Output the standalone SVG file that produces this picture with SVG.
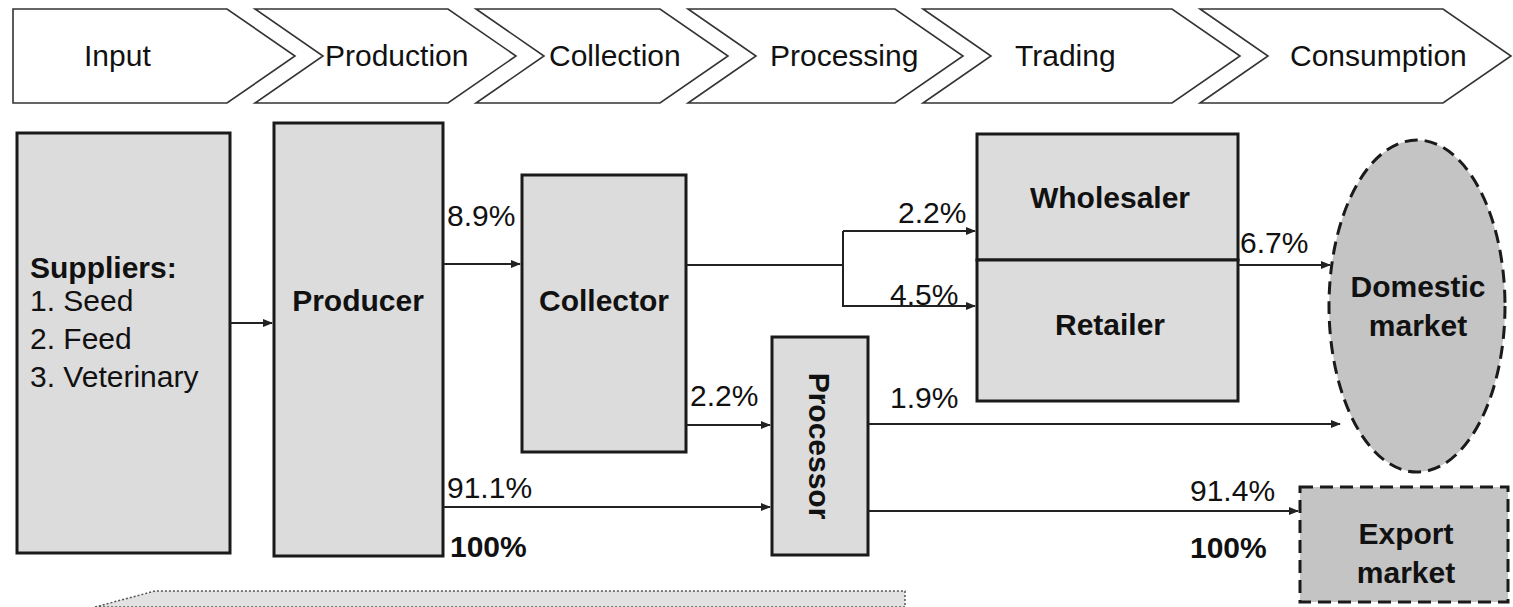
<svg xmlns="http://www.w3.org/2000/svg" width="1513" height="607" viewBox="0 0 1513 607">
<defs>
<marker id="ah" markerWidth="10" markerHeight="10" refX="9" refY="5" orient="auto" markerUnits="userSpaceOnUse">
<path d="M0,1 L10,5 L0,9 Z" fill="#222"/>
</marker>
<style>
.chev{fill:#fff;stroke:#333;stroke-width:1.6}
.ct{font-family:"Liberation Sans",Arial,sans-serif;font-size:30px;fill:#111}
.box{fill:#dcdcdc;stroke:#1a1a1a;stroke-width:3}
.mkt{fill:#c4c4c4;stroke:#1a1a1a;stroke-width:3;stroke-dasharray:13 7}
.bt{font-family:"Liberation Sans",Arial,sans-serif;font-size:30px;font-weight:bold;fill:#111}
.t{font-family:"Liberation Sans",Arial,sans-serif;font-size:30px;fill:#111}
.tb{font-family:"Liberation Sans",Arial,sans-serif;font-size:30px;font-weight:bold;fill:#111}
.ln{fill:none;stroke:#222;stroke-width:2}
</style>
</defs>
<rect width="1513" height="607" fill="#fff"/>

<g id="stages">
<polygon class="chev" points="13,9 227,9 295,56 227,103 13,103"/>
<polygon class="chev" points="255,9 448,9 516,56 448,103 255,103 323,56"/>
<polygon class="chev" points="476,9 660,9 728,56 660,103 476,103 544,56"/>
<polygon class="chev" points="688,9 895,9 963,56 895,103 688,103 756,56"/>
<polygon class="chev" points="923,9 1172,9 1240,56 1172,103 923,103 991,56"/>
<polygon class="chev" points="1200,9 1443,9 1511,56 1443,103 1200,103 1268,56"/>
<text class="ct" x="84" y="66">Input</text>
<text class="ct" x="325" y="66">Production</text>
<text class="ct" x="549" y="66">Collection</text>
<text class="ct" x="770" y="66">Processing</text>
<text class="ct" x="1015" y="66">Trading</text>
<text class="ct" x="1290" y="66">Consumption</text>
</g>

<g id="bottom-arrow">
<polygon points="95,607 155,591 905,591 905,607" fill="#e2e2e2" stroke="#555" stroke-width="1.5" stroke-dasharray="2 2"/>
</g>

<g id="suppliers">
<rect class="box" x="17" y="133" width="213" height="420"/>
<text class="tb" x="30" y="278">Suppliers:</text>
<text class="t" x="30" y="311">1. Seed</text>
<text class="t" x="30" y="349">2. Feed</text>
<text class="t" x="30" y="387">3. Veterinary</text>
</g>

<g id="producer">
<rect class="box" x="274" y="123" width="169" height="433"/>
<text class="bt" x="358" y="311" text-anchor="middle">Producer</text>
</g>

<g id="collector">
<rect class="box" x="522" y="175" width="164" height="277"/>
<text class="bt" x="604" y="311" text-anchor="middle">Collector</text>
</g>

<g id="processor">
<rect class="box" x="772" y="337" width="96" height="218"/>
<text class="bt" x="0" y="0" text-anchor="middle" transform="translate(809,446) rotate(90)">Processor</text>
</g>

<g id="wholesaler">
<rect class="box" x="977" y="134" width="261" height="126"/>
<text class="bt" x="1110" y="208" text-anchor="middle">Wholesaler</text>
</g>

<g id="retailer">
<rect class="box" x="977" y="260" width="261" height="141"/>
<text class="bt" x="1110" y="335" text-anchor="middle">Retailer</text>
</g>

<g id="domestic-market">
<ellipse class="mkt" cx="1417" cy="306" rx="88" ry="166"/>
<text class="bt" x="1418" y="297" text-anchor="middle">Domestic</text>
<text class="bt" x="1418" y="336" text-anchor="middle">market</text>
</g>

<g id="export-market">
<rect class="mkt" x="1300" y="487" width="208" height="115"/>
<text class="bt" x="1406" y="544" text-anchor="middle">Export</text>
<text class="bt" x="1406" y="583" text-anchor="middle">market</text>
</g>

<g id="connectors">
<line class="ln" x1="230" y1="323" x2="272" y2="323" marker-end="url(#ah)"/>
<line class="ln" x1="443" y1="264" x2="520" y2="264" marker-end="url(#ah)"/>
<polyline class="ln" points="686,265 843,265"/>
<polyline class="ln" points="843,231 843,306 975,306" marker-end="url(#ah)"/>
<line class="ln" x1="843" y1="231" x2="975" y2="231" marker-end="url(#ah)"/>
<line class="ln" x1="1238" y1="265" x2="1330" y2="265" marker-end="url(#ah)"/>
<line class="ln" x1="686" y1="425" x2="770" y2="425" marker-end="url(#ah)"/>
<line class="ln" x1="868" y1="424" x2="1340" y2="424" marker-end="url(#ah)"/>
<line class="ln" x1="443" y1="507" x2="770" y2="507" marker-end="url(#ah)"/>
<line class="ln" x1="868" y1="511" x2="1298" y2="511" marker-end="url(#ah)"/>
<text class="t" x="447" y="226">8.9%</text>
<text class="t" x="898" y="223">2.2%</text>
<text class="t" x="890" y="305">4.5%</text>
<text class="t" x="1240" y="253">6.7%</text>
<text class="t" x="690" y="406">2.2%</text>
<text class="t" x="890" y="408">1.9%</text>
<text class="t" x="447" y="498">91.1%</text>
<text class="tb" x="450" y="557">100%</text>
<text class="t" x="1190" y="501">91.4%</text>
<text class="tb" x="1190" y="558">100%</text>
</g>
</svg>
